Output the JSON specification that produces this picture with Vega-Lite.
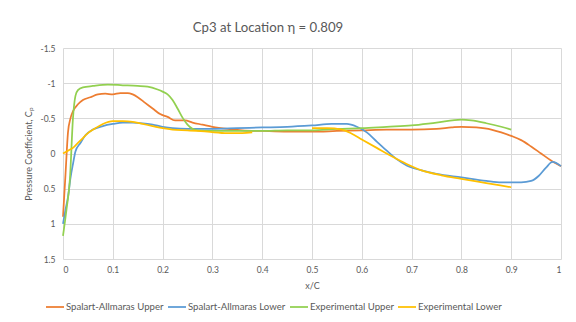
{
  "$schema": "https://vega.github.io/schema/vega-lite/v6.json",
  "autosize": {"type": "none"},
  "padding": {"left": 63, "top": 48, "right": 15, "bottom": 63},
  "width": 498,
  "height": 211,
  "background": "white",
  "title": {"text": "Cp3 at Location η = 0.809", "anchor": "middle", "frame": "group", "dx": -44, "offset": 9, "fontSize": 13.2, "font": "Lato", "fontWeight": "normal", "color": "#595959"},
  "config": {"view": {"stroke": null}, "font": "Lato"},
  "data": {"values": [
    {"s": "Spalart-Allmaras Upper", "x": 0, "cp": 0.9},
    {"s": "Spalart-Allmaras Upper", "x": 0.005, "cp": 0.3},
    {"s": "Spalart-Allmaras Upper", "x": 0.01, "cp": -0.3},
    {"s": "Spalart-Allmaras Upper", "x": 0.015, "cp": -0.5},
    {"s": "Spalart-Allmaras Upper", "x": 0.02, "cp": -0.6},
    {"s": "Spalart-Allmaras Upper", "x": 0.03, "cp": -0.7},
    {"s": "Spalart-Allmaras Upper", "x": 0.04, "cp": -0.76},
    {"s": "Spalart-Allmaras Upper", "x": 0.055, "cp": -0.8},
    {"s": "Spalart-Allmaras Upper", "x": 0.07, "cp": -0.84},
    {"s": "Spalart-Allmaras Upper", "x": 0.085, "cp": -0.85},
    {"s": "Spalart-Allmaras Upper", "x": 0.1, "cp": -0.84},
    {"s": "Spalart-Allmaras Upper", "x": 0.115, "cp": -0.86},
    {"s": "Spalart-Allmaras Upper", "x": 0.13, "cp": -0.86},
    {"s": "Spalart-Allmaras Upper", "x": 0.14, "cp": -0.84},
    {"s": "Spalart-Allmaras Upper", "x": 0.15, "cp": -0.8},
    {"s": "Spalart-Allmaras Upper", "x": 0.165, "cp": -0.72},
    {"s": "Spalart-Allmaras Upper", "x": 0.18, "cp": -0.64},
    {"s": "Spalart-Allmaras Upper", "x": 0.195, "cp": -0.56},
    {"s": "Spalart-Allmaras Upper", "x": 0.21, "cp": -0.52},
    {"s": "Spalart-Allmaras Upper", "x": 0.225, "cp": -0.47},
    {"s": "Spalart-Allmaras Upper", "x": 0.245, "cp": -0.47},
    {"s": "Spalart-Allmaras Upper", "x": 0.26, "cp": -0.44},
    {"s": "Spalart-Allmaras Upper", "x": 0.28, "cp": -0.41},
    {"s": "Spalart-Allmaras Upper", "x": 0.3, "cp": -0.38},
    {"s": "Spalart-Allmaras Upper", "x": 0.33, "cp": -0.35},
    {"s": "Spalart-Allmaras Upper", "x": 0.36, "cp": -0.33},
    {"s": "Spalart-Allmaras Upper", "x": 0.4, "cp": -0.32},
    {"s": "Spalart-Allmaras Upper", "x": 0.45, "cp": -0.31},
    {"s": "Spalart-Allmaras Upper", "x": 0.5, "cp": -0.31},
    {"s": "Spalart-Allmaras Upper", "x": 0.55, "cp": -0.32},
    {"s": "Spalart-Allmaras Upper", "x": 0.6, "cp": -0.33},
    {"s": "Spalart-Allmaras Upper", "x": 0.65, "cp": -0.34},
    {"s": "Spalart-Allmaras Upper", "x": 0.7, "cp": -0.34},
    {"s": "Spalart-Allmaras Upper", "x": 0.75, "cp": -0.35},
    {"s": "Spalart-Allmaras Upper", "x": 0.78, "cp": -0.37},
    {"s": "Spalart-Allmaras Upper", "x": 0.8, "cp": -0.38},
    {"s": "Spalart-Allmaras Upper", "x": 0.83, "cp": -0.37},
    {"s": "Spalart-Allmaras Upper", "x": 0.86, "cp": -0.34},
    {"s": "Spalart-Allmaras Upper", "x": 0.88, "cp": -0.3},
    {"s": "Spalart-Allmaras Upper", "x": 0.9, "cp": -0.25},
    {"s": "Spalart-Allmaras Upper", "x": 0.92, "cp": -0.19},
    {"s": "Spalart-Allmaras Upper", "x": 0.94, "cp": -0.1},
    {"s": "Spalart-Allmaras Upper", "x": 0.96, "cp": 0.0},
    {"s": "Spalart-Allmaras Upper", "x": 0.98, "cp": 0.1},
    {"s": "Spalart-Allmaras Upper", "x": 1.0, "cp": 0.18},

    {"s": "Spalart-Allmaras Lower", "x": 0, "cp": 1.0},
    {"s": "Spalart-Allmaras Lower", "x": 0.005, "cp": 0.8},
    {"s": "Spalart-Allmaras Lower", "x": 0.01, "cp": 0.62},
    {"s": "Spalart-Allmaras Lower", "x": 0.015, "cp": 0.35},
    {"s": "Spalart-Allmaras Lower", "x": 0.02, "cp": 0.15},
    {"s": "Spalart-Allmaras Lower", "x": 0.025, "cp": -0.03},
    {"s": "Spalart-Allmaras Lower", "x": 0.035, "cp": -0.15},
    {"s": "Spalart-Allmaras Lower", "x": 0.045, "cp": -0.26},
    {"s": "Spalart-Allmaras Lower", "x": 0.06, "cp": -0.34},
    {"s": "Spalart-Allmaras Lower", "x": 0.08, "cp": -0.39},
    {"s": "Spalart-Allmaras Lower", "x": 0.1, "cp": -0.42},
    {"s": "Spalart-Allmaras Lower", "x": 0.12, "cp": -0.44},
    {"s": "Spalart-Allmaras Lower", "x": 0.14, "cp": -0.44},
    {"s": "Spalart-Allmaras Lower", "x": 0.16, "cp": -0.43},
    {"s": "Spalart-Allmaras Lower", "x": 0.18, "cp": -0.41},
    {"s": "Spalart-Allmaras Lower", "x": 0.2, "cp": -0.38},
    {"s": "Spalart-Allmaras Lower", "x": 0.22, "cp": -0.36},
    {"s": "Spalart-Allmaras Lower", "x": 0.25, "cp": -0.35},
    {"s": "Spalart-Allmaras Lower", "x": 0.3, "cp": -0.35},
    {"s": "Spalart-Allmaras Lower", "x": 0.35, "cp": -0.36},
    {"s": "Spalart-Allmaras Lower", "x": 0.4, "cp": -0.37},
    {"s": "Spalart-Allmaras Lower", "x": 0.45, "cp": -0.38},
    {"s": "Spalart-Allmaras Lower", "x": 0.5, "cp": -0.4},
    {"s": "Spalart-Allmaras Lower", "x": 0.54, "cp": -0.42},
    {"s": "Spalart-Allmaras Lower", "x": 0.57, "cp": -0.42},
    {"s": "Spalart-Allmaras Lower", "x": 0.59, "cp": -0.38},
    {"s": "Spalart-Allmaras Lower", "x": 0.61, "cp": -0.3},
    {"s": "Spalart-Allmaras Lower", "x": 0.63, "cp": -0.17},
    {"s": "Spalart-Allmaras Lower", "x": 0.65, "cp": -0.04},
    {"s": "Spalart-Allmaras Lower", "x": 0.67, "cp": 0.08},
    {"s": "Spalart-Allmaras Lower", "x": 0.69, "cp": 0.17},
    {"s": "Spalart-Allmaras Lower", "x": 0.72, "cp": 0.24},
    {"s": "Spalart-Allmaras Lower", "x": 0.75, "cp": 0.29},
    {"s": "Spalart-Allmaras Lower", "x": 0.8, "cp": 0.34},
    {"s": "Spalart-Allmaras Lower", "x": 0.85, "cp": 0.39},
    {"s": "Spalart-Allmaras Lower", "x": 0.88, "cp": 0.41},
    {"s": "Spalart-Allmaras Lower", "x": 0.92, "cp": 0.41},
    {"s": "Spalart-Allmaras Lower", "x": 0.94, "cp": 0.39},
    {"s": "Spalart-Allmaras Lower", "x": 0.955, "cp": 0.32},
    {"s": "Spalart-Allmaras Lower", "x": 0.97, "cp": 0.2},
    {"s": "Spalart-Allmaras Lower", "x": 0.983, "cp": 0.12},
    {"s": "Spalart-Allmaras Lower", "x": 1.0, "cp": 0.18},

    {"s": "Experimental Upper", "x": 0, "cp": 1.17},
    {"s": "Experimental Upper", "x": 0.007, "cp": 0.8},
    {"s": "Experimental Upper", "x": 0.014, "cp": 0.35},
    {"s": "Experimental Upper", "x": 0.02, "cp": -0.5},
    {"s": "Experimental Upper", "x": 0.025, "cp": -0.82},
    {"s": "Experimental Upper", "x": 0.03, "cp": -0.9},
    {"s": "Experimental Upper", "x": 0.04, "cp": -0.94},
    {"s": "Experimental Upper", "x": 0.06, "cp": -0.96},
    {"s": "Experimental Upper", "x": 0.09, "cp": -0.98},
    {"s": "Experimental Upper", "x": 0.12, "cp": -0.97},
    {"s": "Experimental Upper", "x": 0.15, "cp": -0.96},
    {"s": "Experimental Upper", "x": 0.17, "cp": -0.95},
    {"s": "Experimental Upper", "x": 0.19, "cp": -0.91},
    {"s": "Experimental Upper", "x": 0.2, "cp": -0.88},
    {"s": "Experimental Upper", "x": 0.21, "cp": -0.84},
    {"s": "Experimental Upper", "x": 0.22, "cp": -0.76},
    {"s": "Experimental Upper", "x": 0.23, "cp": -0.64},
    {"s": "Experimental Upper", "x": 0.24, "cp": -0.51},
    {"s": "Experimental Upper", "x": 0.25, "cp": -0.41},
    {"s": "Experimental Upper", "x": 0.26, "cp": -0.35},
    {"s": "Experimental Upper", "x": 0.27, "cp": -0.33},
    {"s": "Experimental Upper", "x": 0.3, "cp": -0.32},
    {"s": "Experimental Upper", "x": 0.35, "cp": -0.32},
    {"s": "Experimental Upper", "x": 0.4, "cp": -0.32},
    {"s": "Experimental Upper", "x": 0.45, "cp": -0.33},
    {"s": "Experimental Upper", "x": 0.5, "cp": -0.33},
    {"s": "Experimental Upper", "x": 0.55, "cp": -0.35},
    {"s": "Experimental Upper", "x": 0.6, "cp": -0.36},
    {"s": "Experimental Upper", "x": 0.65, "cp": -0.38},
    {"s": "Experimental Upper", "x": 0.7, "cp": -0.4},
    {"s": "Experimental Upper", "x": 0.75, "cp": -0.44},
    {"s": "Experimental Upper", "x": 0.8, "cp": -0.48},
    {"s": "Experimental Upper", "x": 0.82, "cp": -0.47},
    {"s": "Experimental Upper", "x": 0.85, "cp": -0.43},
    {"s": "Experimental Upper", "x": 0.88, "cp": -0.38},
    {"s": "Experimental Upper", "x": 0.9, "cp": -0.34},

    {"s": "Experimental Lower", "x": 0, "cp": 0.0},
    {"s": "Experimental Lower", "x": 0.01, "cp": -0.04},
    {"s": "Experimental Lower", "x": 0.02, "cp": -0.08},
    {"s": "Experimental Lower", "x": 0.03, "cp": -0.15},
    {"s": "Experimental Lower", "x": 0.04, "cp": -0.22},
    {"s": "Experimental Lower", "x": 0.05, "cp": -0.29},
    {"s": "Experimental Lower", "x": 0.065, "cp": -0.36},
    {"s": "Experimental Lower", "x": 0.08, "cp": -0.42},
    {"s": "Experimental Lower", "x": 0.1, "cp": -0.46},
    {"s": "Experimental Lower", "x": 0.12, "cp": -0.46},
    {"s": "Experimental Lower", "x": 0.14, "cp": -0.45},
    {"s": "Experimental Lower", "x": 0.16, "cp": -0.42},
    {"s": "Experimental Lower", "x": 0.18, "cp": -0.39},
    {"s": "Experimental Lower", "x": 0.2, "cp": -0.36},
    {"s": "Experimental Lower", "x": 0.22, "cp": -0.34},
    {"s": "Experimental Lower", "x": 0.25, "cp": -0.33},
    {"s": "Experimental Lower", "x": 0.29, "cp": -0.31},
    {"s": "Experimental Lower", "x": 0.33, "cp": -0.29},
    {"s": "Experimental Lower", "x": 0.36, "cp": -0.29},
    {"s": "Experimental Lower", "x": 0.38, "cp": -0.3},
    {"s": "Experimental Lower", "x": 0.44, "cp": null},
    {"s": "Experimental Lower", "x": 0.5, "cp": -0.36},
    {"s": "Experimental Lower", "x": 0.53, "cp": -0.36},
    {"s": "Experimental Lower", "x": 0.56, "cp": -0.34},
    {"s": "Experimental Lower", "x": 0.58, "cp": -0.28},
    {"s": "Experimental Lower", "x": 0.6, "cp": -0.2},
    {"s": "Experimental Lower", "x": 0.63, "cp": -0.08},
    {"s": "Experimental Lower", "x": 0.66, "cp": 0.04},
    {"s": "Experimental Lower", "x": 0.69, "cp": 0.15},
    {"s": "Experimental Lower", "x": 0.72, "cp": 0.24},
    {"s": "Experimental Lower", "x": 0.76, "cp": 0.31},
    {"s": "Experimental Lower", "x": 0.8, "cp": 0.36},
    {"s": "Experimental Lower", "x": 0.85, "cp": 0.42},
    {"s": "Experimental Lower", "x": 0.9, "cp": 0.48}
  ]},
  "mark": {"type": "line", "interpolate": "monotone", "strokeWidth": 1.75, "invalid": "break-paths-show-domains"},
  "encoding": {
    "x": {"field": "x", "type": "quantitative", "title": "x/C",
      "scale": {"domain": [0, 1], "nice": false},
      "axis": {"values": [0, 0.1, 0.2, 0.3, 0.4, 0.5, 0.6, 0.7, 0.8, 0.9, 1], "labelExpr": "'' + datum.value",
        "grid": true, "gridColor": "#D9D9D9", "gridWidth": 1, "domain": false, "ticks": false,
        "labelPadding": 6, "labelFontSize": 8.5, "labelColor": "#595959", "labelFont": "Lato",
        "titlePadding": 8, "titleFontSize": 9, "titleFontWeight": "normal", "titleColor": "#595959", "titleFont": "Lato"}},
    "y": {"field": "cp", "type": "quantitative", "title": "Pressure Coefficient, Cₚ",
      "scale": {"domain": [-1.5, 1.5], "reverse": true, "nice": false, "zero": false},
      "axis": {"values": [-1.5, -1, -0.5, 0, 0.5, 1, 1.5], "labelExpr": "'' + datum.value",
        "grid": true, "gridColor": "#D9D9D9", "gridWidth": 1, "domain": false, "ticks": false,
        "labelPadding": 8, "labelFontSize": 8.5, "labelColor": "#595959", "labelFont": "Lato",
        "titlePadding": 6, "titleFontSize": 9, "titleFontWeight": "normal", "titleColor": "#595959", "titleFont": "Lato"}},
    "color": {"field": "s", "type": "nominal",
      "scale": {"domain": ["Spalart-Allmaras Upper", "Spalart-Allmaras Lower", "Experimental Upper", "Experimental Lower"],
        "range": ["#ED7D31", "#5B9BD5", "#92D050", "#FFC000"]},
      "legend": {"title": null, "orient": "none", "legendX": -18, "legendY": 249, "direction": "horizontal",
        "symbolType": "stroke", "symbolSize": 324, "symbolStrokeWidth": 1.75, "labelOffset": 1,
        "labelFontSize": 9.6, "labelColor": "#595959", "labelFont": "Lato", "columnPadding": 0, "gridAlign": "none"}}
  }
}
